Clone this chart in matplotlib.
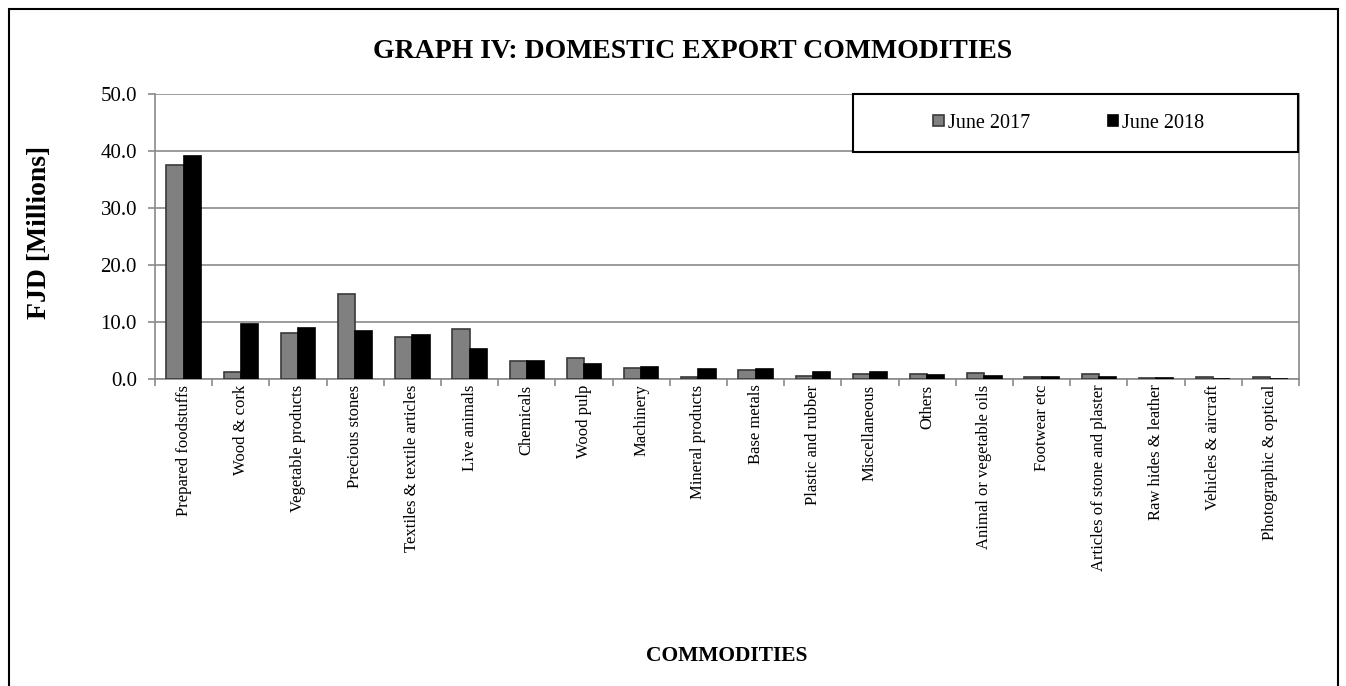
import matplotlib.pyplot as plt
import numpy as np
from matplotlib.patches import Rectangle

# Data (FJD millions)
commodities = [
    'Prepared foodstuffs', 'Wood & cork', 'Vegetable products', 'Precious stones',
    'Textiles & textile articles', 'Live animals', 'Chemicals', 'Wood pulp',
    'Machinery', 'Mineral products', 'Base metals', 'Plastic and rubber',
    'Miscellaneous', 'Others', 'Animal or vegetable oils', 'Footwear etc',
    'Articles of stone and plaster', 'Raw hides & leather', 'Vehicles & aircraft',
    'Photographic & optical',
]
june_2017 = [37.5, 1.3, 8.0, 14.9, 7.3, 8.7, 3.2, 3.6, 2.0, 0.4,
             1.6, 0.5, 0.8, 0.9, 1.1, 0.3, 0.8, 0.25, 0.4, 0.4]
june_2018 = [39.2, 9.6, 9.0, 8.5, 7.7, 5.3, 3.1, 2.7, 2.1, 1.75,
             1.75, 1.3, 1.25, 0.7, 0.6, 0.3, 0.3, 0.1, 0.05, 0.05]
y_ticks = [0, 10, 20, 30, 40, 50]

plt.rcParams['font.family'] = ['Liberation Serif', 'DejaVu Serif']

fig = plt.figure(figsize=(13.46, 6.86), dpi=100)
W, H = 1346, 686

# outer chart border
fig.patches.append(Rectangle((9 / W, -0.01), (1338 - 9) / W, 1 - 9 / H + 0.01,
                             transform=fig.transFigure, fill=False,
                             edgecolor='black', linewidth=1.5))

ax = fig.add_axes([155 / W, 1 - 379 / H, (1299 - 155) / W, (379 - 94) / H])

x = np.arange(len(commodities))
w = 0.3
ax.bar(x - w / 2, june_2017, width=w, color='#808080', edgecolor='#3a3a3a',
       linewidth=1.2, label='June 2017', zorder=3)
ax.bar(x + w / 2, june_2018, width=w, color='black', edgecolor='black',
       linewidth=1.2, label='June 2018', zorder=3)

ax.set_xlim(-0.5, len(commodities) - 0.5)
ax.set_ylim(0, 50)
ax.set_yticks(y_ticks)
ax.set_yticklabels([f'{v:.1f}' for v in y_ticks], fontsize=15)
ax.yaxis.grid(True, color='#8a8a8a', linewidth=1.2, zorder=0)
ax.set_axisbelow(True)

ax.set_xticks(x)
ax.set_xticklabels(commodities, rotation=90, fontsize=12)
ax.tick_params(axis='x', length=0, pad=4)
ax.set_xticks(np.arange(len(commodities) + 1) - 0.5, minor=True)
ax.tick_params(axis='x', which='minor', length=5, color='#8a8a8a', width=1.2)
ax.tick_params(axis='y', length=5, color='#8a8a8a', width=1.2, pad=8)

for side in ['left', 'bottom', 'right']:
    ax.spines[side].set_color('#8a8a8a')
    ax.spines[side].set_linewidth(1.2)
ax.spines['top'].set_visible(False)

# legend box drawn as its own frame, legend centred inside it
fig.patches.append(Rectangle((853 / W, 1 - 152 / H), (1298 - 853) / W, 58 / H,
                             transform=fig.transFigure, facecolor='white',
                             edgecolor='black', linewidth=1.5, zorder=5))
leg = fig.legend(loc='center', bbox_to_anchor=(1069 / W, 1 - 123 / H), ncol=2,
                 fontsize=14.5, frameon=False, handlelength=0.5, handleheight=0.5,
                 handletextpad=0.2, columnspacing=3.9)
leg.set_zorder(6)

fig.text(693 / W, 1 - 52 / H, 'GRAPH IV: DOMESTIC EXPORT COMMODITIES',
         ha='center', va='center', fontsize=20, fontweight='bold')
fig.text(40 / W, 1 - 232 / H, 'FJD [Millions]', rotation=90,
         ha='center', va='center', fontsize=20, fontweight='bold')
fig.text(727 / W, 1 - 656 / H, 'COMMODITIES',
         ha='center', va='center', fontsize=15.5, fontweight='bold')

fig.savefig('out.png', dpi=100)
